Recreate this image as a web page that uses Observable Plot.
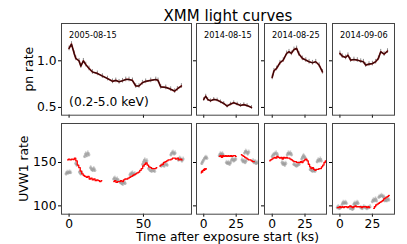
<!DOCTYPE html>
<html><head><meta charset="utf-8">
<script src="https://cdn.jsdelivr.net/npm/d3@7"></script>
<script src="https://cdn.jsdelivr.net/npm/@observablehq/plot@0.6"></script>
<style>
body{margin:0;background:#fff}
#fig{position:relative;width:407px;height:244px;overflow:hidden;font-family:"DejaVu Sans"}
.p{position:absolute}
</style>
</head><body><div id="fig"></div>
<script>
// ---------- data ----------
const obsDates = ["2005-08-15", "2014-08-15", "2014-08-25", "2014-09-06"];
const bandLabel = "(0.2-5.0 keV)";
const titleText = "XMM light curves";
const xLabel = "Time after exposure start (ks)";
const yLabelTop = "pn rate";
const yLabelBottom = "UVW1 rate";
const xTicksLong = [0, 50];
const xTicksShort = [0, 25];
const yTicksTop = [0.5, 1.0];
const yTicksBottom = [100, 150];
const pnErr = [0.025, 0.02, 0.025, 0.025];
const uvErr = 2.5, uvTErr = 0.5;

// pn (0.2-5 keV) rate
const pn1T = [0,1.6,3.4,4.5,6.7,7.9,9.6,11.2,13.4,15.7,19,22.4,25.8,29.2,31.4,33.6,35.9,38.1,40.3,42.6,44.8,47,49.3,51.5,54.9,58.3,59.8,61.6,65,68.3,71,72.8,75.5];
const pn1V = [1.133,1.18,1.08,1.026,1.0,0.943,1.0,0.96,0.918,0.88,0.865,0.836,0.81,0.78,0.79,0.775,0.786,0.80,0.80,0.79,0.73,0.73,0.765,0.78,0.79,0.80,0.79,0.72,0.715,0.696,0.675,0.70,0.73];
const pn2T = [0,1.5,3,5.2,7.7,10.3,12.9,15.4,18,20.6,23.1,25.8,28.3,30.9,33.4,36.8];
const pn2V = [0.586,0.621,0.586,0.571,0.586,0.58,0.56,0.543,0.514,0.536,0.55,0.536,0.521,0.53,0.52,0.50];
const pn3T = [0,1.3,3.3,5.9,8.4,11,12.8,14.6,16.6,18.6,20.4,23,25.6,28.1,30.7,33.2,35.8,38.3];
const pn3V = [0.822,0.893,0.918,0.979,1.008,1.08,1.097,1.08,1.122,1.133,1.072,1.026,1.008,0.99,0.979,0.99,0.954,0.882];
const pn4T = [0,1.8,4.4,6.2,8.2,10.8,13.4,16,18.1,19.8,22.4,25,27.5,29.6,31.4,34,36.6];
const pn4V = [1.08,1.05,1.036,1.06,1.008,1.014,1.008,0.996,0.99,0.954,0.965,0.97,0.99,1.026,1.097,1.072,1.104];

// scaled X-ray curve (red) on UVW1 axis; null = gap
const red1T = [-1,0,1,2,3,4,5,6,7,8,9,10,11,12,13,14,15,16,17,18,19,20,21,22,23,30,31,32,33,34,35,36,37,38,39,40,41,42,43,44,45,46,47,48,49,50,51,52,53,54,55,56,57,58,59,60,61,62,63,64,65,66,67,68,69,70,71,72,73,74,75,76];
const red1V = [153,154,153,154,153.5,155,152,147,144,140,137,135,134,133,134,131,132,130,131,129,130,129,128,129,null,128,129,127,128,128,129,128,130,131,131,132,133,134,135,136,137,138,139,141,143,146,148,149.5,147,145,144,143,143,143,144,null,146,147,148,150,151,152,153,153,154,155,155,154,155,153,154,153];
const red2T = [-2,-1.5,-1,-0.5,0,0.5,1,1.5,2,3,12,13,14,15,16,17,18,19,20,21,22,23,24,25,26,29,30,31,32,33,34,35,36,37,38,39];
const red2V = [138,140,139,141,142,141,143,142,143,null,157,158,156,158,157,158,157,158,157,158,157,158,158,157,null,159,158,157,156,155,154,153,153,152,151,151];
const red3T = [-2,-1,0,1,2,3,4,5,6,7,8,9,10,11,12,13,14,15,16,17,18,19,20,21,22,23,24,25,26,27,28,29,30,31,32,33,34,35,36,37,38,39,40,41];
const red3V = [152,153,154,155,156,155,157,156,155,156,154,156,155,156,155,155,154,153,152,151,151,150,150,150,151,150,152,153,154,152,148,145,143,144,142,141,142,142,143,143,145,147,150,152];
const red4T = [-2,-1,0,1,2,3,4,5,6,7,8,9,10,11,12,13,14,15,16,17,18,19,20,21,22,23,24,26,27,28,29,30,31,32,33,34,35,36,37,38];
const red4V = [98,98,99,98,99,98,99,99,98,99,100,99,98,99,100,99,99,99,99,98,99,99,99,98,99,98,null,97,99,101,102,103,104,105,106,108,109,110,111,112];

// UVW1 rate (grey points)
const uv1T = [-2,-1.3,-0.6,0.2,1,4.5,5.2,7,7.8,8.5,10.5,11.2,11.9,12.6,13.3,14.5,15.2,15.9,16.6,17.3,30,30.8,31.6,32.4,33.2,34.5,35.3,36.1,36.9,37.7,41,41.8,42.6,43.4,44.2,49.5,50.2,50.9,51.6,52.3,53.5,54.5,55.5,56.5,57.5,62,63,64,65,66,68.5,69.2,69.9,70.6,71.3,73.5,74.3,75.1,75.9,76.7];
const uv1V = [137,138.5,138,139,138.5,149,147,139,137,138,157,160,158,161,159,144,142,141,143,141,131,132,130,131,129,127,126,125,127,126,136,137,138,136,137,148,151,153,150,152,143,141,140,141,140,146,147,146,148,147,159,161,162,160,161,153,155,154,152,154];
const uv2T = [-1.5,-0.8,0,0.8,1.6,2.4,12,12.8,13.6,14.4,15.2,17.5,18.3,19.1,19.9,20.7,21.5,22.3,23.1,23.9,24.7,29.5,30.3,31.1,31.9,32.7,31.5,32.3,33.1,33.9,34.7,38,38.8,39.6,40.4,41.2];
const uv2V = [149,151,153,155,156,155,158,160,159,160,158,150,149,150,148,150,153,154,152,153,154,153,151,152,150,152,161,163,162,160,162,152,150,151,149,150];
const uv3T = [0,1,2,3,4,7.5,8.2,8.9,9.6,10.3,11.5,12.3,13.1,13.9,14.7,16.5,17.5,18.5,19.5,20.5,22.5,23.2,23.9,24.6,25.3,29,29.9,30.8,31.7,32.6,34.3,35.1,35.9,36.7,37.5];
const uv3V = [157,159,160,161,159,150,148,149,147,149,159,161,160,161,159,148,147,146,147,148,154,156,158,156,155,142,141,140,141,140,151,153,152,154,152];
const uv4T = [-2,-1.2,-0.4,0.4,1.8,2.6,3.4,4.2,5,8,8.8,9.6,10.4,10.8,11.6,12.4,13.2,14,16,17.2,18.4,19.6,20.8,22,23.2,25,25.8,26.6,27.4,28.2,30,31,32,33,34,34.5,35.3,36.1,36.9,37.7];
const uv4V = [98,99,97,98,102,104,103,104,103,97,98,96,97,102,103,102,104,103,98,97,99,98,97,98,99,105,107,106,108,106,110,111,112,111,110,106,107,106,108,107];

// ---------- drawing ----------
const fig = document.getElementById("fig");
function place(el, left, top) {
  const d = document.createElement("div");
  d.className = "p"; d.style.left = left + "px"; d.style.top = top + "px";
  d.appendChild(el); fig.appendChild(d);
}
const rows = (T, V) => T.map((t, i) => ({t, v: V[i]}));
const ML = 42, MR = 3, MT = 3, MB = 24;

function panel({x0, y0, w, h, xd, yd, xt, yt, xlab, ylab, yfmt, marks}) {
  const svg = Plot.plot({
    width: w + ML + MR, height: h + MT + MB,
    marginLeft: ML, marginRight: MR, marginTop: MT, marginBottom: MB,
    style: {fontFamily: "DejaVu Sans", fontSize: "12.3px", background: "transparent", color: "#000", overflow: "visible"},
    x: {domain: xd, ticks: xt, tickSize: 3, tickPadding: 2, tickFormat: xlab ? d => String(d) : () => "", label: null},
    y: {domain: yd, ticks: yt, tickSize: 3, tickPadding: 2, tickFormat: ylab ? yfmt : () => "", label: null},
    marks: [...marks, Plot.frame({stroke: "#444", strokeWidth: 1})]
  });
  place(svg, x0 - ML, y0 - MT);
}

const cols = [
  {x0: 60.7, w: 130, xd: [-5.1, 82.3], xt: xTicksLong},
  {x0: 196, w: 62, xd: [-5.6, 42.2], xt: xTicksShort},
  {x0: 264, w: 62, xd: [-5.9, 41.4], xt: xTicksShort},
  {x0: 332, w: 62, xd: [-5.7, 42], xt: xTicksShort}
];
const pnT = [pn1T, pn2T, pn3T, pn4T], pnV = [pn1V, pn2V, pn3V, pn4V];
const redT = [red1T, red2T, red3T, red4T], redV = [red1V, red2V, red3V, red4V];
const uvT = [uv1T, uv2T, uv3T, uv4T], uvV = [uv1V, uv2V, uv3V, uv4V];

cols.forEach((c, i) => {
  const pn = rows(pnT[i], pnV[i]);
  const e = pnErr[i];
  const topMarks = [
    Plot.ruleX(pn, {x: "t", y1: d => d.v - e, y2: d => d.v + e, stroke: "#8a8a8a", strokeWidth: 1}),
    Plot.line(pn, {x: "t", y: "v", stroke: "#8b1a1a", strokeWidth: 1.7}),
    Plot.line(pn, {x: "t", y: "v", stroke: "#1a0505", strokeWidth: 0.9}),
    Plot.text([obsDates[i]], {frameAnchor: "top-left", dx: 7.6, dy: 15, lineAnchor: "bottom", textAnchor: "start", fontSize: 8.2, fill: "#000"})
  ];
  if (i === 0) topMarks.push(Plot.text([bandLabel], {frameAnchor: "bottom-left", dx: 7.6, dy: -9, lineAnchor: "bottom", textAnchor: "start", fontSize: 12.3, fill: "#000"}));
  panel({x0: c.x0, y0: 23.3, w: c.w, h: 91.7, xd: c.xd, yd: [0.417, 1.40], xt: c.xt, yt: yTicksTop,
    xlab: false, ylab: i === 0, yfmt: d3.format(".1f"), marks: topMarks});

  const uv = rows(uvT[i], uvV[i]);
  const red = rows(redT[i], redV[i]);
  const botMarks = [
    Plot.ruleX(uv, {x: "t", y1: d => d.v - uvErr, y2: d => d.v + uvErr, stroke: "#9a9a9a", strokeOpacity: 0.4, strokeWidth: 1.5}),
    Plot.ruleY(uv, {y: "v", x1: d => d.t - uvTErr, x2: d => d.t + uvTErr, stroke: "#9a9a9a", strokeOpacity: 0.4, strokeWidth: 1.5}),
    Plot.dot(uv, {x: "t", y: "v", r: 1.6, fill: "#9a9a9a", fillOpacity: 0.5, stroke: "none"}),
    Plot.line(red, {x: "t", y: "v", stroke: "#ff0000", strokeWidth: 1.3, curve: "step", defined: d => d.v != null})
  ];
  panel({x0: c.x0, y0: 123.3, w: c.w, h: 90.7, xd: c.xd, yd: [90.4, 195], xt: c.xt, yt: yTicksBottom,
    xlab: true, ylab: i === 0, yfmt: d3.format("d"), marks: botMarks});
});

// titles and axis labels
const NS = "http://www.w3.org/2000/svg";
const ov = document.createElementNS(NS, "svg");
ov.setAttribute("width", 407); ov.setAttribute("height", 244);
ov.style.position = "absolute"; ov.style.left = "0"; ov.style.top = "0"; ov.style.pointerEvents = "none";
function txt(s, x, y, size, rot) {
  const t = document.createElementNS(NS, "text");
  t.textContent = s;
  t.setAttribute("x", x); t.setAttribute("y", y);
  t.setAttribute("text-anchor", "middle");
  t.setAttribute("font-family", "DejaVu Sans");
  t.setAttribute("font-size", size);
  if (rot) t.setAttribute("transform", `rotate(-90 ${x} ${y})`);
  ov.appendChild(t);
}
txt(titleText, 228, 21, 15);
txt(xLabel, 227.5, 241, 12.3);
txt(yLabelTop, 33, 69.2, 12.3, true);
txt(yLabelBottom, 28.3, 168.7, 12.3, true);
fig.appendChild(ov);
</script>
</body></html>
